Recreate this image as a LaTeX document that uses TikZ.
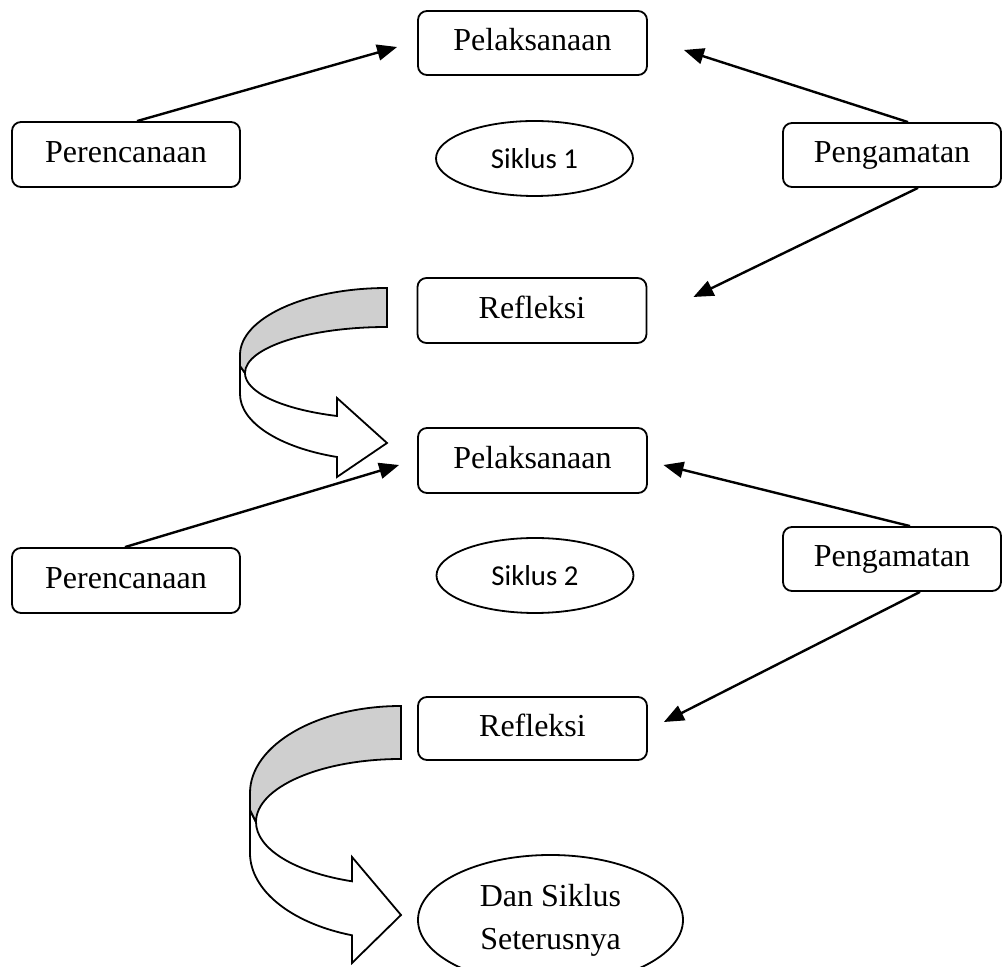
\documentclass[tikz,border=0pt]{standalone}
\usepackage{fontspec}
\setmainfont{Liberation Serif}
\newfontfamily\calibrifont{Carlito}
\usetikzlibrary{arrows.meta,calc,shapes.geometric}
\begin{document}
\begin{tikzpicture}[x=0.5pt,y=-0.5pt,
  box/.style={draw,line width=0.9pt,rounded corners=4.5pt,inner sep=0pt,
    minimum width=114.5pt,minimum height=32pt,text height=0.95em,text depth=0.15em,
    font=\fontsize{16}{19}\selectfont},
  oval/.style={draw,ellipse,line width=0.9pt,inner sep=0pt},
  siklus/.style={oval,minimum width=98.5pt,minimum height=37.5pt,
    text height=1.05em,text depth=0.05em,font=\calibrifont\fontsize{14.4}{17}\selectfont},
  arr/.style={line width=1.2pt,-{Triangle[length=10pt,width=8pt]}},
  band/.style={draw,line width=0.9pt,line join=miter}]
\useasboundingbox (0,0) rectangle (1003,967);

% boxes
\node[box] (P1) at (532.5,43) {Pelaksanaan};
\node[box,minimum width=114pt,minimum height=32.5pt] (Per1) at (126,154.5) {Perencanaan};
\node[box,minimum width=109pt] (G1) at (892,155) {Pengamatan};
\node[box,minimum height=32.5pt] (R1) at (532,310.5) {Refleksi};
\node[siklus] (S1) at (534.5,158.5) {Siklus 1};

\node[box,minimum height=32.5pt] (P2) at (532.5,460.5) {Pelaksanaan};
\node[box,minimum width=114pt,minimum height=32.5pt] (Per2) at (126,580.5) {Perencanaan};
\node[box,minimum width=109pt] (G2) at (892,559) {Pengamatan};
\node[box,minimum height=31.5pt] (R2) at (532.5,728.5) {Refleksi};
\node[siklus] (S2) at (535,575.5) {Siklus 2};

\node[oval,minimum width=132.5pt,minimum height=65pt,align=center,
  font=\fontsize{16}{21.5}\selectfont] (D) at (550.5,920) {Dan Siklus\\Seterusnya};

% straight arrows
\draw[arr] ($(Per1.north)+(11,0)$) -- ($(P1.west)+(-20,4)$);
\draw[arr] ($(G1.north)+(16,0)$) -- ($(P1.east)+(36,7)$);
\draw[arr] ($(G1.south)+(26,0)$) -- ($(R1.east)+(46,-13.5)$);
\draw[arr] ($(Per2.north)+(-1,0)$) -- ($(P2.west)+(-18,4.5)$);
\draw[arr] ($(G2.north)+(18,0)$) -- ($(P2.east)+(15.5,4.5)$);
\draw[arr] ($(G2.south)+(28,0)$) -- ($(R2.east)+(16,-6.5)$);

% curved ribbon arrow 1
\filldraw[band,fill=white] (240,355) -- (240,394)
  arc[start angle=180,end angle=109.9,x radius=147,y radius=67]
  -- (337,477) -- (387,443) -- (337,398) -- (337,416)
  arc[start angle=110.6,end angle=180,x radius=142,y radius=46]
  -- (240,366) -- cycle;
\filldraw[band,fill=gray!38] (387,288)
  arc[start angle=-90,end angle=-180,x radius=147,y radius=67]
  -- (240,366) -- (245,373)
  arc[start angle=180,end angle=270,x radius=142,y radius=46] -- cycle;

% curved ribbon arrow 2
\filldraw[band,fill=white] (250,793) -- (250,853)
  arc[start angle=180,end angle=108.93,x radius=151,y radius=87]
  -- (352,963) -- (401,915) -- (352,857) -- (352,881.3)
  arc[start angle=109.75,end angle=180,x radius=145,y radius=63]
  -- (250,810) -- cycle;
\filldraw[band,fill=gray!38] (401,706)
  arc[start angle=-90,end angle=-180,x radius=151,y radius=87]
  -- (250,810) -- (256,822)
  arc[start angle=180,end angle=270,x radius=145,y radius=63] -- cycle;
\end{tikzpicture}
\end{document}
